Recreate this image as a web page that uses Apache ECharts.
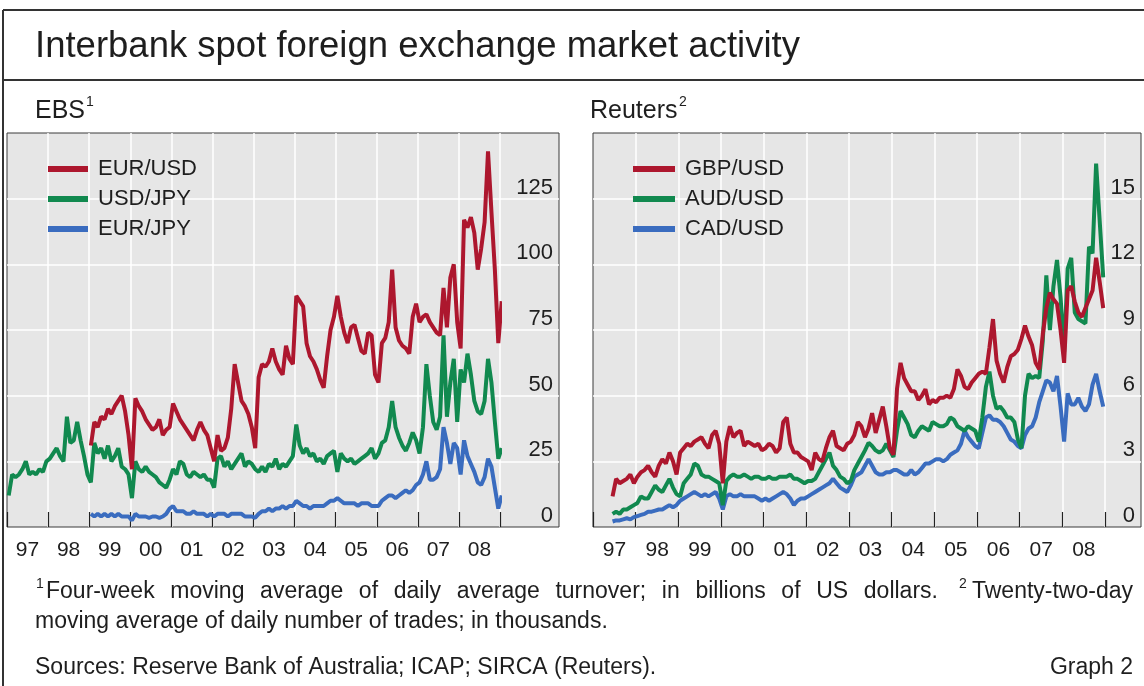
<!DOCTYPE html>
<html>
<head>
<meta charset="utf-8">
<script src="https://cdn.jsdelivr.net/npm/echarts@6/dist/echarts.min.js"></script>
<style>
  html, body { margin: 0; padding: 0; background: #fff; }
  #main { width: 1144px; height: 686px; }
</style>
</head>
<body>
<div id="main"></div>
<script>
// monthly readings, index 0 = Jan 1997
var yearLabels = ['97', '98', '99', '00', '01', '02', '03', '04', '05', '06', '07', '08'];

// EBS, billions of US dollars
var eurUsdStart = 24;
var eurUsd = [
  31, 40, 38, 42, 41, 45, 43, 46, 48, 50, 44, 35,
  22, 49, 46, 44, 41, 39, 37, 38, 41, 35, 37, 38,
  47, 44, 41, 39, 37, 35, 33, 37, 40, 37, 35, 30,
  25, 35, 29, 30, 34, 45, 62, 55, 48, 46, 43, 38,
  30, 57, 62, 61, 63, 68, 63, 60, 58, 69, 64, 62,
  88, 86, 84, 70, 65, 63, 60, 56, 53, 65, 75, 80,
  88, 80, 74, 70, 76, 77, 72, 67, 66, 74, 73, 58,
  55, 70, 72, 78, 98, 76, 71, 69, 68, 66, 80, 85,
  78, 80, 81, 78, 76, 74, 73, 91, 76, 95, 100, 78,
  68, 117, 114, 118, 112, 98, 106, 116, 143, 120, 98, 70,
  86
];
var usdJpyStart = 0;
var usdJpy = [
  12, 20, 19, 20, 22, 25, 20, 21, 20, 22, 21, 25,
  26, 28, 30, 27, 25, 42, 32, 33, 40, 33, 27, 20,
  17, 32, 28, 30, 26, 31, 25, 27, 30, 23, 22, 20,
  11, 25, 22, 21, 23, 21, 20, 19, 17, 16, 15, 18,
  22, 20, 25, 24, 20, 19, 21, 20, 19, 20, 18, 18,
  15, 26, 27, 23, 25, 22, 24, 26, 28, 23, 25, 24,
  22, 21, 23, 21, 24, 23, 26, 22, 24, 23, 25, 27,
  39, 31, 28, 30, 27, 28, 25, 26, 24, 27, 28, 29,
  21, 28, 26, 25, 26, 24, 25, 26, 27, 28, 30, 26,
  28, 32, 33, 38, 48, 38, 34, 31, 29, 32, 36, 33,
  28, 38, 62, 50, 40, 37, 42, 73, 42, 55, 64, 40,
  60, 55, 66, 58, 48, 44, 43, 48, 64, 55, 40, 26,
  30
];
var eurJpyStart = 24;
var eurJpy = [
  5, 4, 5, 4, 5, 4, 5, 4, 5, 4, 4, 4,
  2.5, 5, 4, 4, 4, 3.5, 4, 4, 3.5, 4, 5, 7,
  8, 6, 6, 6, 5, 5, 6, 5, 5, 5, 4, 5,
  4, 5, 5, 5, 4, 5, 5, 5, 5, 4, 4, 4,
  3.5, 5, 6, 6, 7, 6, 7, 7, 8, 7, 8, 8,
  10, 9, 8, 8, 7, 8, 8, 8, 8, 9, 10, 10,
  11, 10, 9, 9, 9, 9, 8, 9, 9, 9, 8, 8,
  8, 10, 11, 12, 12, 11, 12, 13, 14, 13, 14, 16,
  17, 20, 25, 18, 18, 19, 22, 38, 32, 24, 32, 30,
  20, 33, 27, 24, 21, 17, 16, 19, 26, 23, 15, 7,
  12
];

// Reuters, thousands of trades
var reutersStart = 5;
var gbpUsd = [
  1.4, 2.2, 2.0, 2.1, 2.2, 2.4, 2.0, 2.3, 2.5, 2.6, 2.8, 2.5,
  2.3, 2.8, 3.1, 2.9, 3.4, 3.0, 2.4, 3.4, 3.6, 3.8, 3.7, 3.9,
  4.0, 4.1, 3.8, 3.6, 4.2, 4.4, 3.8, 2.0, 3.9, 4.6, 4.1, 4.3,
  4.4, 3.7, 3.9, 3.8, 3.7, 3.8, 3.5, 3.6, 3.8, 3.7, 3.4, 3.6,
  4.8, 5.0, 3.8, 3.4, 3.4, 3.2, 3.1, 3.0, 2.6, 3.4, 3.1, 3.0,
  3.6, 4.1, 4.4, 3.7, 3.6, 3.5, 3.8, 3.9, 4.2, 4.8, 4.6, 4.1,
  4.5, 5.2, 4.3, 4.9, 5.5, 4.6, 3.6, 3.3, 6.3, 7.5, 6.8, 6.5,
  6.2, 6.2, 5.8, 6.0, 6.3, 5.6, 5.8, 5.7, 5.9, 5.9, 6.0, 5.9,
  6.3, 7.2, 6.9, 6.4, 6.3, 6.6, 6.8, 7.0, 7.1, 7.0, 8.2, 9.5,
  7.6, 7.0, 6.6, 7.3, 7.8, 7.9, 8.1, 8.6, 9.2, 8.7, 8.3, 7.5,
  7.2, 8.8, 10.0, 10.7, 10.4, 10.2, 9.0, 7.5, 10.8, 11.0, 10.3, 9.8,
  9.6, 10.0, 10.4, 10.8, 12.3, 11.2, 10.0
];
var audUsd = [
  0.6, 0.7, 0.6, 0.8, 0.8, 0.9, 1.0, 1.1, 1.4, 1.3, 1.3, 1.6,
  1.9, 1.7, 1.6, 1.9, 2.2, 1.8, 1.5, 1.4, 2.0, 2.2, 2.4, 2.9,
  2.8, 2.4, 2.3, 2.3, 2.2, 2.1, 2.0, 1.0, 2.1, 2.3, 2.4, 2.3,
  2.3, 2.4, 2.3, 2.2, 2.3, 2.3, 2.2, 2.2, 2.3, 2.2, 2.2, 2.3,
  2.3, 2.3, 2.4, 2.2, 2.2, 2.1, 2.0, 2.1, 2.1, 2.2, 2.5, 2.8,
  3.1, 3.4, 2.8, 2.6, 2.3, 2.2, 2.0, 2.1, 2.6, 2.9, 3.2, 3.5,
  3.85, 3.7, 3.5, 3.4, 3.5, 3.8, 3.5, 3.2, 4.4, 5.3, 5.0, 4.7,
  4.2, 4.1, 4.4, 4.6, 4.5, 4.4, 4.8, 4.7, 4.6, 4.6, 4.7, 5.0,
  4.9, 4.6, 4.5, 4.4, 4.6, 4.5, 4.4, 3.9, 5.0, 6.4, 7.1, 6.0,
  5.4, 5.5, 5.3, 5.0, 5.0, 4.8, 4.0, 3.6, 6.0, 7.0, 6.8, 6.9,
  6.8, 8.5, 11.5, 9.0, 11.0, 12.2, 10.5, 8.0, 11.8, 12.3, 9.8, 9.5,
  9.4, 9.3, 12.8, 12.5, 16.6, 14.0, 11.4
];
var cadUsd = [
  0.25, 0.3, 0.3, 0.35, 0.4, 0.35, 0.45, 0.5, 0.55, 0.6, 0.7, 0.7,
  0.75, 0.8, 0.8, 0.9, 1.0, 0.9, 1.0, 1.2, 1.3, 1.4, 1.5, 1.6,
  1.5, 1.4, 1.5, 1.4, 1.5, 1.6, 1.3, 0.8, 1.4, 1.5, 1.4, 1.4,
  1.5, 1.4, 1.4, 1.4, 1.4, 1.3, 1.2, 1.3, 1.2, 1.3, 1.4, 1.5,
  1.6, 1.5, 1.3, 1.0, 1.2, 1.3, 1.3, 1.4, 1.5, 1.6, 1.7, 1.8,
  1.9, 2.0, 2.2, 2.0, 1.8, 1.7, 1.6, 1.9, 2.3, 2.4, 2.5, 2.8,
  3.1, 2.8, 2.5, 2.4, 2.4, 2.5, 2.5, 2.6, 2.6, 2.5, 2.4, 2.4,
  2.6, 2.4, 2.5, 2.7, 2.9, 2.9, 3.0, 3.1, 3.1, 3.0, 3.1, 3.3,
  3.4, 3.5, 3.8, 4.4, 4.1, 3.9, 3.7, 3.6, 4.3, 5.0, 5.1, 4.9,
  4.9, 4.8, 4.6, 4.3, 4.0, 3.9, 3.7, 3.6, 4.2, 4.5, 4.6, 5.0,
  5.7, 6.2, 6.7, 6.6, 6.2, 6.9, 5.5, 3.9, 6.1, 5.6, 5.6, 5.9,
  5.5, 5.3, 5.6, 6.5, 7.0, 6.2, 5.5
];

var RED = '#ad172e', GREEN = '#11894f', BLUE = '#3a6cbf';
var FONT = '"Liberation Sans", Arial, sans-serif';
var TXT = '#1e1e1e';
var NOTE_FONT = '23px ' + FONT;

// pair each monthly reading with its mid-month date (fractional year)
function monthly(start, values) {
  return values.map(function (v, i) {
    return [1997 + (start + i + 0.5) / 12, v];
  });
}

var myChart = echarts.init(document.getElementById('main'));

function panelAxes(gridIndex, max, step) {
  return {
    x: { gridIndex: gridIndex, type: 'value', show: false, min: 0, max: 1 },
    y: {
      gridIndex: gridIndex, type: 'value', position: 'right', min: 0, max: max, interval: step,
      axisLine: { show: false }, axisTick: { show: false },
      splitLine: { show: true, showMinLine: false, showMaxLine: false, lineStyle: { color: '#ffffff', width: 1.5 } },
      axisLabel: {
        inside: true, margin: 6, verticalAlign: 'bottom',
        fontSize: 22, fontFamily: FONT, color: TXT,
        formatter: function (v) { return v >= max ? '' : String(v); }
      }
    }
  };
}

function dataAxes(gridIndex, max, shift) {
  return {
    x: {
      gridIndex: gridIndex, type: 'value', min: 1997, max: 2009, interval: 1,
      axisLine: { show: false },
      axisTick: { show: true, inside: true, length: 15, lineStyle: { color: '#222', width: 1.2 } },
      splitLine: { show: true, showMinLine: false, lineStyle: { color: '#ffffff', width: 1.5 } },
      axisLabel: {
        margin: 13, fontSize: 21, fontFamily: FONT, color: TXT,
        padding: [0, 0, 0, shift], showMinLabel: true, showMaxLabel: true,
        formatter: function (v) { return yearLabels[v - 1997] || ''; }
      }
    },
    y: { gridIndex: gridIndex, type: 'value', show: false, min: 0, max: max }
  };
}

var lp = panelAxes(0, 150, 25), ld = dataAxes(1, 150, 41);
var rp = panelAxes(2, 18, 3), rd = dataAxes(3, 18, 43);

function lineSeries(name, color, axis, data) {
  return {
    name: name, type: 'line', xAxisIndex: axis, yAxisIndex: axis,
    data: data, color: color, symbol: 'none', clip: false,
    lineStyle: { color: color, width: 4 }, itemStyle: { color: color }
  };
}

var legendBase = {
  orient: 'vertical', top: 153, icon: 'rect', itemHeight: 6, itemGap: 8,
  selectedMode: false,
  textStyle: { fontSize: 22, fontFamily: FONT, color: TXT, lineHeight: 22, padding: [0, 0, 0, 5] }
};

function text(x, y, str, font, align) {
  return { type: 'text', x: x, y: y, style: { text: str, font: font, fill: TXT, align: align || 'left', verticalAlign: 'middle' } };
}
// first footnote line is justified across the page, as in the printed graph
function justifiedNote() {
  var ctx = document.createElement('canvas').getContext('2d');
  ctx.font = NOTE_FONT;
  var tail = 'Twenty-two-day';
  var tailX = 1133 - ctx.measureText(tail).width;
  var words = 'Four-week moving average of daily average turnover; in billions of US dollars.'.split(' ');
  var left = 46, right = tailX - 34;
  var total = 0;
  words.forEach(function (w) { total += ctx.measureText(w).width; });
  var gap = (right - left - total) / (words.length - 1);
  var out = [], x = left;
  words.forEach(function (w) {
    out.push(text(x, 592, w, NOTE_FONT));
    x += ctx.measureText(w).width + gap;
  });
  out.push(text(tailX, 592, tail, NOTE_FONT));
  out.push(text(tailX - 13, 584, '2', '14px ' + FONT));
  return out;
}

option = {
  animation: false,
  backgroundColor: '#ffffff',
  grid: [
    { left: 7, top: 133, width: 552, height: 394, show: true, backgroundColor: '#e6e6e6', borderColor: '#3a3a3a', borderWidth: 1, outerBoundsMode: 'none' },
    { left: 7, top: 133, width: 493, height: 394, outerBoundsMode: 'none' },
    { left: 593, top: 133, width: 548, height: 394, show: true, backgroundColor: '#e6e6e6', borderColor: '#3a3a3a', borderWidth: 1, outerBoundsMode: 'none' },
    { left: 593, top: 133, width: 512, height: 394, outerBoundsMode: 'none' }
  ],
  xAxis: [lp.x, ld.x, rp.x, rd.x],
  yAxis: [lp.y, ld.y, rp.y, rd.y],
  legend: [
    Object.assign({}, legendBase, { left: 43, itemWidth: 40, data: ['EUR/USD', 'USD/JPY', 'EUR/JPY'] }),
    Object.assign({}, legendBase, { left: 628, itemWidth: 42, data: ['GBP/USD', 'AUD/USD', 'CAD/USD'] })
  ],
  series: [
    lineSeries('EUR/JPY', BLUE, 1, monthly(eurJpyStart, eurJpy)),
    lineSeries('USD/JPY', GREEN, 1, monthly(usdJpyStart, usdJpy)),
    lineSeries('EUR/USD', RED, 1, monthly(eurUsdStart, eurUsd)),
    lineSeries('CAD/USD', BLUE, 3, monthly(reutersStart, cadUsd)),
    lineSeries('AUD/USD', GREEN, 3, monthly(reutersStart, audUsd)),
    lineSeries('GBP/USD', RED, 3, monthly(reutersStart, gbpUsd))
  ],
  graphic: [
    { type: 'line', shape: { x1: 3, y1: 10, x2: 1144, y2: 10 }, style: { stroke: '#333', lineWidth: 2 } },
    { type: 'line', shape: { x1: 3, y1: 10, x2: 3, y2: 686 }, style: { stroke: '#333', lineWidth: 2 } },
    { type: 'line', shape: { x1: 3, y1: 80, x2: 1144, y2: 80 }, style: { stroke: '#333', lineWidth: 2 } },
    text(35, 47, 'Interbank spot foreign exchange market activity', '36.5px ' + FONT),
    text(35, 111, 'EBS', '25px ' + FONT),
    text(86, 102, '1', '14px ' + FONT),
    text(590, 111, 'Reuters', '25px ' + FONT),
    text(679, 102, '2', '14px ' + FONT),
    text(36, 584, '1', '14px ' + FONT),
    text(35, 622, 'moving average of daily number of trades; in thousands.', NOTE_FONT),
    text(35, 668, 'Sources: Reserve Bank of Australia; ICAP; SIRCA (Reuters).', NOTE_FONT),
    text(1133, 668, 'Graph 2', NOTE_FONT, 'right')
  ].concat(justifiedNote())
};

window.onresize = myChart.resize;
myChart.setOption(option);
</script>
</body>
</html>
